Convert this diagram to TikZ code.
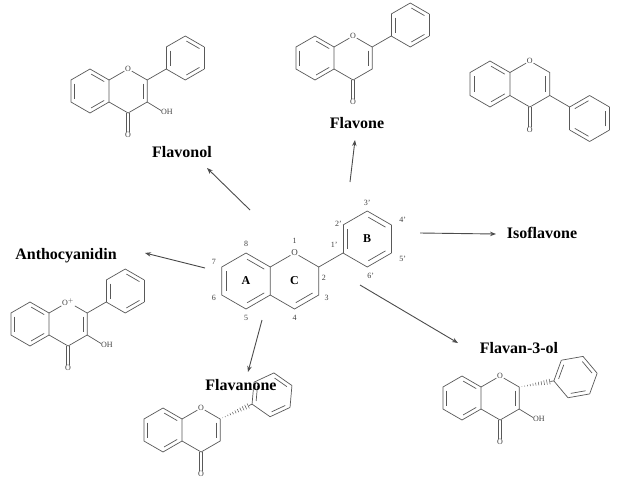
\documentclass[tikz,border=0pt]{standalone}
\usepackage{fontspec}
\setmainfont{Liberation Serif}
\usetikzlibrary{calc,arrows.meta}
\tikzset{
 bond/.style={draw=black!65,line width=0.7pt},
 atom/.style={inner sep=0.6pt,fill=white,font=\footnotesize,text=black!75},
 num/.style={inner sep=0.5pt,font=\footnotesize,text=black!75},
 title/.style={font=\fontsize{16}{18}\selectfont\bfseries},
 arr/.style={draw=black!70,line width=0.9pt,-{Stealth[length=6pt,width=4.5pt]}}
}
\newcommand\dbl[3]{\draw[bond,shorten <=1.3pt,shorten >=1.3pt] ($(#1)!0.2!(#3)$) -- ($(#2)!0.2!(#3)$);}
\newcommand\skel{%
 \coordinate (a1) at (0.866,0.5); \coordinate (a2) at (0,1); \coordinate (a3) at (-0.866,0.5);
 \coordinate (a4) at (-0.866,-0.5); \coordinate (a5) at (0,-1); \coordinate (a6) at (0.866,-0.5);
 \coordinate (ca) at (0,0); \coordinate (cc) at (1.732,0);
 \coordinate (c2) at (2.598,0.5); \coordinate (c3) at (2.598,-0.5); \coordinate (c4) at (1.732,-1);
 \draw[bond] (a1)--(a2)--(a3)--(a4)--(a5)--(a6)--cycle;
 \dbl{a1}{a2}{ca}\dbl{a3}{a4}{ca}\dbl{a5}{a6}{ca}
 \draw[bond] (a1)--(oo)--(c2)--(c3)--(c4)--(a6);}
\newcommand\carbonyl{%
 \node[atom] (ox) at (1.732,-2.0) {O};
 \draw[bond] ($(c4)+(-0.07,0)$)--($(ox.north)+(-0.07,0)$);
 \draw[bond] ($(c4)+(0.07,0)$)--($(ox.north)+(0.07,0)$);}
\newcommand\phenyl[2]{%
 \foreach \k in {0,...,5}{\draw[bond] ($(#1)+({#2+60*\k}:1)$) -- ($(#1)+({#2+60*\k+60}:1)$);}
 \foreach \k in {1,3,5}{\draw[bond,shorten <=1.3pt,shorten >=1.3pt] ($(#1)+({#2+60*\k}:0.8)$) -- ($(#1)+({#2+60*\k+60}:0.8)$);}}
\newcommand\phtwo{%
 \coordinate (p1) at (3.464,1); \coordinate (pc) at (4.33,1.5);
 \draw[bond] (c2)--(p1); \phenyl{pc}{210}}
% #1 direction angle of the bond
\newcommand\hashed[1]{%
 \coordinate (p1) at ($(c2)+(#1:1.6)$); \coordinate (pc) at ($(p1)+(#1:1)$);
 \foreach \t in {0.08,0.16,...,0.9}{\draw[bond,line width=0.5pt] ($(c2)!\t!(p1)+({#1+90}:{0.14*\t})$) -- ($(c2)!\t!(p1)+({#1-90}:{0.14*\t})$);}
 \draw[bond] ($(c2)!0.9!(p1)$)--(p1);
 \phenyl{pc}{#1+180}}
\newcommand\OH{\draw[bond] (c3)--(3.25,-0.9); \node[atom,anchor=west] (oh) at (3.2,-0.95) {OH};}
\begin{document}
\begin{tikzpicture}[x=1pt,y=-1pt]
\useasboundingbox[fill=white] (0,0) rectangle (620,480);
% central
\begin{scope}[shift={(246,281)},x=28pt,y=28pt]
 \node[atom,font=\small] (oo) at (1.732,1) {O};
 \skel
 \draw[bond,shorten <=1.5pt,shorten >=1.5pt] ($(c3)!0.2!(cc)$)--($(c4)!0.2!(cc)$);
 \coordinate (p1) at (3.464,1); \coordinate (pc) at (4.33,1.5);
 \draw[bond] (c2)--(p1); \phenyl{pc}{210}
 \node[num] at (0,1.32) {8}; \node[num] at (-1.15,0.68) {7}; \node[num] at (-1.15,-0.62) {6};
 \node[num] at (0,-1.32) {5}; \node[num] at (1.732,1.45) {1}; \node[num] at (2.78,0.1) {2};
 \node[num] at (2.88,-0.6) {3}; \node[num] at (1.732,-1.32) {4};
 \node[num] at (3.15,1.3) {1'}; \node[num] at (3.3,2.05) {2'}; \node[num] at (4.33,2.8) {3'};
 \node[num] at (5.6,2.2) {4'}; \node[num] at (5.6,0.8) {5'}; \node[num] at (4.45,0.2) {6'};
 \node[font=\large\bfseries] (ra) at (0,0) {A}; \node[font=\large\bfseries] (rc) at (cc) {C}; \node[font=\large\bfseries] (rb) at (pc) {B};
\end{scope}
% flavone
\begin{scope}[shift={(315,58)},x=22pt,y=22pt]
 \node[atom] (oo) at (1.732,1) {O}; \skel \dbl{c2}{c3}{cc} \carbonyl \phtwo
\end{scope}
% flavonol
\begin{scope}[shift={(90,91)},x=22pt,y=22pt]
 \node[atom] (oo) at (1.732,1) {O}; \skel \dbl{c2}{c3}{cc} \carbonyl \phtwo \OH
\end{scope}
% isoflavone
\begin{scope}[shift={(490,84)},x=23pt,y=23pt]
 \node[atom] (oo) at (1.732,1) {O}; \skel \dbl{c2}{c3}{cc} \carbonyl
 \coordinate (p1) at (3.464,-1); \coordinate (pc) at (4.33,-1.5);
 \draw[bond] (c3)--(p1); \phenyl{pc}{150}
\end{scope}
% anthocyanidin
\begin{scope}[shift={(30,324)},x=22pt,y=22pt]
 \node[atom] (oo) at (1.732,1) {O$^{+}$}; \skel \dbl{c2}{c3}{cc} \carbonyl \phtwo \OH
\end{scope}
% flavanone
\begin{scope}[shift={(163,430)},x=22pt,y=22pt]
 \node[atom] (oo) at (1.732,1) {O}; \skel \dbl{c2}{c3}{cc} \carbonyl \hashed{25}
\end{scope}
% flavan-3-ol
\begin{scope}[shift={(462,398)},x=22pt,y=22pt]
 \node[atom] (oo) at (1.732,1) {O}; \skel \dbl{c2}{c3}{cc} \carbonyl \hashed{10} \OH
\end{scope}
% titles
\node[title] (tfl) at (182,152) {Flavonol};
\node[title] (tfe) at (357,123) {Flavone};
\node[title] (tis) at (542,233) {Isoflavone};
\node[title] (tan) at (66,256) {Anthocyanidin};
\node[title] (tfa) at (241,385) {Flavanone};
\node[title] (tf3) at (519,348) {Flavan-3-ol};
% arrows
\coordinate (s1) at (250,210); \coordinate (e1) at (207,168);
\coordinate (s2) at (350,182); \coordinate (e2) at (355,140);
\coordinate (s3) at (420,233); \coordinate (e3) at (496,234);
\coordinate (s4) at (205,268); \coordinate (e4) at (145,253);
\coordinate (s5) at (262,320); \coordinate (e5) at (248,372);
\coordinate (s6) at (360,285); \coordinate (e6) at (458,343);
\foreach \i in {1,...,6}{\draw[arr] (s\i) -- (e\i);}
\end{tikzpicture}
\end{document}
